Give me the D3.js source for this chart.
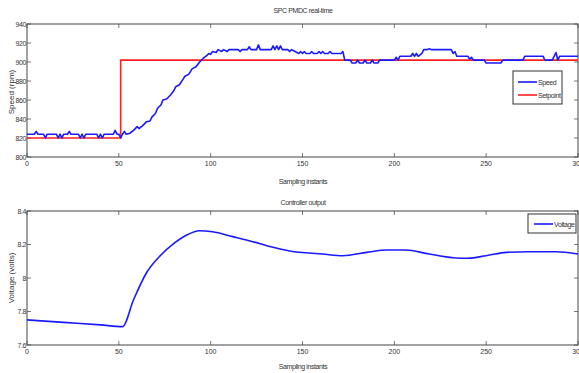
<!DOCTYPE html>
<html lang="en">
<head>
<meta charset="UTF-8">
<title>SPC PMDC real-time</title>
<script src="https://cdn.jsdelivr.net/npm/d3@7"></script>
<style>
  body { margin: 0; background: #fff; }
  svg text { font-family: "Liberation Sans Narrow", "Liberation Sans", Arial, sans-serif; fill: #333; }
</style>
</head>
<body>
<svg id="chart" width="579" height="373"></svg>
<script>
// speed (rpm) vs sampling instant
var speedT = [0,4,5,6,9,10,11,16,17,18,19,20,22,23,24,28,29,30,31,32,38,39,40,41,42,47,48,49,50,51,52,53,54,56,
  58,60,61,63,65,67,68,70,71,73,74,76,78,80,81,83,85,86,88,90,92,94,96,98,99,100,101,103,104,106,107,109,110,
  112,115,116,117,120,121,122,125,126,127,133,134,135,136,137,138,139,142,143,144,146,148,149,150,151,152,154,
  155,156,158,159,160,161,162,164,165,166,171,172,173,176,177,179,180,181,183,184,185,187,188,189,191,192,200,
  201,202,203,209,210,211,212,213,215,216,218,219,220,231,232,233,234,240,241,242,243,249,250,258,259,270,271,
  281,282,286,288,289,290,300]
var speedV = [824,824,827,824,824,820,824,824,820,824,820,824,824,827,824,824,820,824,820,824,824,820,824,820,824,824,828,824,824,820,824,827,824,825,
  828,832,830,833,837,838,842,846,851,855,860,861,865,870,874,876,882,885,887,893,895,900,904,907,909,908,911,910,913,911,913,911,913,
  913,913,911,913,913,916,913,913,918,913,913,917,913,917,913,917,913,913,911,913,911,909,911,909,911,909,909,
  911,909,909,911,909,911,909,909,911,909,909,911,902,902,899,899,902,899,899,902,899,899,902,899,899,902,902,
  905,902,906,906,909,906,909,906,909,913,913,914,913,913,909,911,906,906,903,905,902,902,899,899,902,902,906,
  906,902,902,910,902,906,906]
var setT = [0, 51, 51, 300]
var setV = [820, 820, 902, 902]

// controller output (volts)
var voltT = [0,20,40,52,58,65,72,80,87,94,101,112,123,134,143,161,172,185,196,206,219,232,240,250,261,273,288,300]
var voltV = [7.75,7.735,7.72,7.71,7.87,8.03,8.127,8.207,8.257,8.282,8.276,8.247,8.217,8.183,8.161,8.143,8.133,8.153,8.167,8.167,8.143,8.121,8.118,8.133,8.153,8.157,8.157,8.143]

var xTicks = [0, 50, 100, 150, 200, 250, 300]
var speedTicks = [800, 820, 840, 860, 880, 900, 920, 940]
var voltTicks = [7.6, 7.8, 8.0, 8.2, 8.4]

var svg = d3.select('#chart')
var left = 27, right = 578

var x = d3.scaleLinear().domain([0, 300]).range([left, right])
var ySpeed = d3.scaleLinear().domain([800, 940]).range([157, 24])
var yVolt = d3.scaleLinear().domain([7.6, 8.4]).range([345, 211])

function drawPanel (y, yTicks, fmt) {
  var g = svg.append('g')
  var top = y.range()[1], bottom = y.range()[0]
  var tick = 4
  // inner ticks on all four sides
  xTicks.forEach(function (t) {
    g.append('line').attr('x1', x(t)).attr('x2', x(t)).attr('y1', bottom).attr('y2', bottom - tick)
      .attr('stroke', '#555').attr('stroke-width', 0.8)
    g.append('line').attr('x1', x(t)).attr('x2', x(t)).attr('y1', top).attr('y2', top + tick)
      .attr('stroke', '#555').attr('stroke-width', 0.8)
    g.append('text').attr('x', x(t)).attr('y', bottom + 9).attr('text-anchor', 'middle')
      .attr('font-size', 7).text(t)
  })
  yTicks.forEach(function (v) {
    g.append('line').attr('x1', left).attr('x2', left + tick).attr('y1', y(v)).attr('y2', y(v))
      .attr('stroke', '#555').attr('stroke-width', 0.8)
    g.append('line').attr('x1', right).attr('x2', right - tick).attr('y1', y(v)).attr('y2', y(v))
      .attr('stroke', '#555').attr('stroke-width', 0.8)
    g.append('text').attr('x', left - 1).attr('y', y(v) + 2.5).attr('text-anchor', 'end')
      .attr('font-size', 7).attr('letter-spacing', -0.4).text(fmt(v))
  })
  g.append('rect').attr('x', left).attr('y', top).attr('width', right - left).attr('height', bottom - top)
    .attr('fill', 'none').attr('stroke', '#444').attr('stroke-width', 1)
  return g
}

function line (y) {
  return d3.line().x(function (d) { return x(d[0]) }).y(function (d) { return y(d[1]) })
}

// top panel
drawPanel(ySpeed, speedTicks, function (v) { return v })
svg.append('path').datum(setT.map(function (t, i) { return [t, setV[i]] }))
  .attr('d', line(ySpeed)).attr('fill', 'none').attr('stroke', '#ff2020').attr('stroke-width', 1.6)
svg.append('path').datum(speedT.map(function (t, i) { return [t, speedV[i]] }))
  .attr('d', line(ySpeed)).attr('fill', 'none').attr('stroke', '#1a1aff').attr('stroke-width', 1.6)
  .attr('stroke-linejoin', 'round')

svg.append('text').attr('x', 303).attr('y', 13).attr('text-anchor', 'middle').attr('font-size', 7)
  .attr('letter-spacing', -0.4).text('SPC PMDC real-time')
svg.append('text').attr('x', 303).attr('y', 184).attr('text-anchor', 'middle').attr('font-size', 7)
  .attr('letter-spacing', -0.4).text('Sampling instants')
svg.append('text').attr('transform', 'translate(14,92) rotate(-90)').attr('text-anchor', 'middle')
  .attr('font-size', 8).text('Speed (rpm)')

// legend top
var lg = svg.append('g')
lg.append('rect').attr('x', 513).attr('y', 71).attr('width', 49).attr('height', 33)
  .attr('fill', '#fff').attr('stroke', '#333').attr('stroke-width', 1)
lg.append('line').attr('x1', 518).attr('x2', 537).attr('y1', 82).attr('y2', 82).attr('stroke', '#1a1aff').attr('stroke-width', 1.6)
lg.append('line').attr('x1', 518).attr('x2', 537).attr('y1', 95).attr('y2', 95).attr('stroke', '#ff2020').attr('stroke-width', 1.6)
lg.append('text').attr('x', 538).attr('y', 85).attr('font-size', 7).attr('letter-spacing', -0.4).text('Speed')
lg.append('text').attr('x', 538).attr('y', 98).attr('font-size', 7).attr('letter-spacing', -0.4).text('Setpoint')

// bottom panel
drawPanel(yVolt, voltTicks, function (v) { return d3.format('~g')(v) })
svg.append('path').datum(voltT.map(function (t, i) { return [t, voltV[i]] }))
  .attr('d', line(yVolt).curve(d3.curveMonotoneX)).attr('fill', 'none').attr('stroke', '#1a1aff').attr('stroke-width', 1.6)

svg.append('text').attr('x', 303).attr('y', 205).attr('text-anchor', 'middle').attr('font-size', 7)
  .attr('letter-spacing', -0.4).text('Controller output')
svg.append('text').attr('x', 303).attr('y', 369).attr('text-anchor', 'middle').attr('font-size', 7)
  .attr('letter-spacing', -0.4).text('Sampling instants')
svg.append('text').attr('transform', 'translate(14,278) rotate(-90)').attr('text-anchor', 'middle')
  .attr('font-size', 8).text('Voltage (volts)')

var lg2 = svg.append('g')
lg2.append('rect').attr('x', 528).attr('y', 214).attr('width', 48).attr('height', 19)
  .attr('fill', '#fff').attr('stroke', '#333').attr('stroke-width', 1)
lg2.append('line').attr('x1', 534).attr('x2', 553).attr('y1', 224).attr('y2', 224).attr('stroke', '#1a1aff').attr('stroke-width', 1.6)
lg2.append('text').attr('x', 554).attr('y', 227).attr('font-size', 7).attr('letter-spacing', -0.4).text('Voltage')
</script>
</body>
</html>
